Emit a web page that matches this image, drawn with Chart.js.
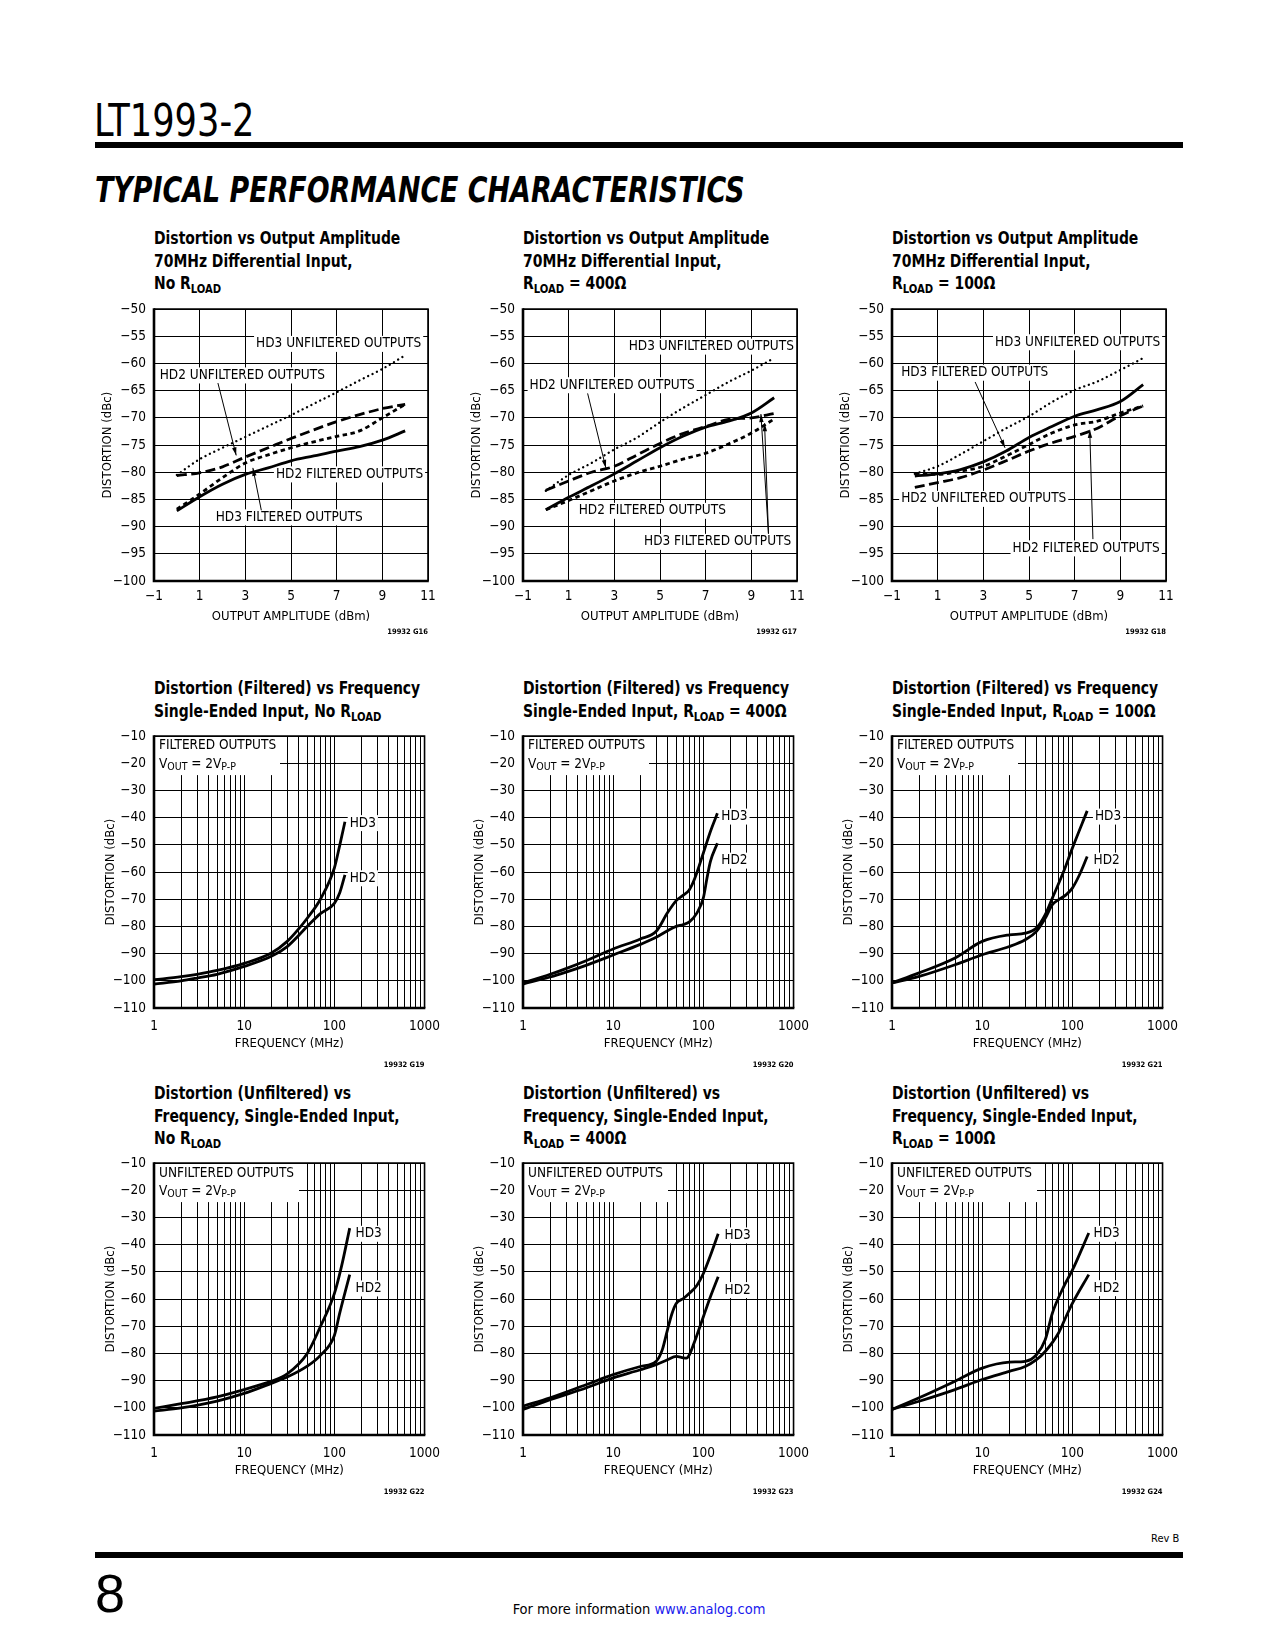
<!DOCTYPE html>
<html>
<head>
<meta charset="utf-8">
<script src="https://cdn.jsdelivr.net/npm/chart.js@4.4.1/dist/chart.umd.min.js"></script>
<style>
  body { margin: 0; background: #fff; }
  #page { position: relative; width: 1275px; height: 1650px; overflow: hidden; background: #fff;
    font-family: "Liberation Sans Narrow", "DejaVu Sans Condensed", sans-serif; color: #000; }
  .abs { position: absolute; white-space: nowrap; }
  .rule { position: absolute; left: 95px; width: 1088px; background: #000; }
  .title { font-weight: bold; font-size: 18px; line-height: 22.5px; transform: scaleX(0.86); transform-origin: 0 0; }
  .title sub { font-size: 13px; vertical-align: -4px; line-height: 0; }
  canvas { position: absolute; }
</style>
</head>
<body>
<div id="page">
  <div class="abs" style="left:94px;top:99px;font-size:44px;line-height:44px;transform:scaleX(0.89);transform-origin:0 0;">LT1993-2</div>
  <div class="rule" style="top:142px;height:6px;"></div>
  <div class="abs" id="heading" style="left:95px;top:171px;font-family:'DejaVu Sans',sans-serif;font-weight:bold;font-style:italic;font-size:36px;line-height:37px;transform-origin:0 0;">TYPICAL PERFORMANCE CHARACTERISTICS</div>

  <div class="abs title" style="left:154px;top:227px;">Distortion vs Output Amplitude<br>70MHz Differential Input,<br>No R<sub>LOAD</sub></div>
  <div class="abs title" style="left:523px;top:227px;">Distortion vs Output Amplitude<br>70MHz Differential Input,<br>R<sub>LOAD</sub> = 400Ω</div>
  <div class="abs title" style="left:892px;top:227px;">Distortion vs Output Amplitude<br>70MHz Differential Input,<br>R<sub>LOAD</sub> = 100Ω</div>

  <div class="abs title" style="left:154px;top:677px;">Distortion (Filtered) vs Frequency<br>Single-Ended Input, No R<sub>LOAD</sub></div>
  <div class="abs title" style="left:523px;top:677px;">Distortion (Filtered) vs Frequency<br>Single-Ended Input, R<sub>LOAD</sub> = 400Ω</div>
  <div class="abs title" style="left:892px;top:677px;">Distortion (Filtered) vs Frequency<br>Single-Ended Input, R<sub>LOAD</sub> = 100Ω</div>

  <div class="abs title" style="left:154px;top:1082px;">Distortion (Unfiltered) vs<br>Frequency, Single-Ended Input,<br>No R<sub>LOAD</sub></div>
  <div class="abs title" style="left:523px;top:1082px;">Distortion (Unfiltered) vs<br>Frequency, Single-Ended Input,<br>R<sub>LOAD</sub> = 400Ω</div>
  <div class="abs title" style="left:892px;top:1082px;">Distortion (Unfiltered) vs<br>Frequency, Single-Ended Input,<br>R<sub>LOAD</sub> = 100Ω</div>

  <canvas id="g16"></canvas><canvas id="g17"></canvas><canvas id="g18"></canvas>
  <canvas id="g19"></canvas><canvas id="g20"></canvas><canvas id="g21"></canvas>
  <canvas id="g22"></canvas><canvas id="g23"></canvas><canvas id="g24"></canvas>

  <div class="abs" style="left:1151px;top:1532px;font-size:11px;line-height:14px;">Rev B</div>
  <div class="rule" style="top:1552px;height:6px;"></div>
  <div class="abs" style="left:95px;top:1566px;font-family:'Liberation Sans',sans-serif;font-size:54px;line-height:54px;">8</div>
  <div class="abs" style="left:0;width:1278px;text-align:center;top:1600px;font-size:14.5px;line-height:18px;">For more information <span style="color:#1a1aee;">www.analog.com</span></div>
</div>

<script>
// ---- data ----
// output amplitude (dBm), x of the amplitude sweeps
const ampX = [0, 1, 2, 3, 4, 5, 6, 7, 8, 9, 10];
const ampTicks = [-1, 1, 3, 5, 7, 9, 11];
const ampDbTicks = [-100, -95, -90, -85, -80, -75, -70, -65, -60, -55, -50];

// G16, no Rload
const g16Hd3Unf = [-80.5, -77.6, -75.5, -73.5, -71.5, -69.5, -67.4, -65.3, -63.1, -61, -58.5];
const g16Hd2Unf = [-80.6, -80.1, -79, -77.2, -75.5, -73.8, -72.2, -70.7, -69.4, -68.3, -67.5];
const g16Hd2Fil = [-87.1, -84.5, -82.2, -80.4, -79.2, -77.9, -77, -76.1, -75.3, -74.1, -72.4];
const g16Hd3Fil = [-86.8, -84, -81, -78.3, -76.8, -75.5, -74.4, -73.4, -72.4, -70, -67.5];

// G17, Rload = 400
const g17Hd3Unf = [-83.4, -80.5, -78.3, -75.8, -73.6, -70.8, -68.2, -65.8, -63.4, -61.3, -59];
const g17Hd2Unf = [-83.3, -81.6, -80, -78.9, -76.8, -74.7, -72.9, -71.6, -70.3, -70, -69.2];
const g17Hd2Fil = [-86.9, -84.6, -82.5, -80.3, -77.9, -75.5, -73.4, -71.7, -70.6, -69.1, -66.3];
const g17Hd3Fil = [-86.9, -85.2, -83.4, -81.6, -80.1, -78.9, -77.6, -76.5, -74.8, -72.8, -70.2];

// G18, Rload = 100
const g18Hd3Unf = [-80.3, -78.9, -76.7, -74.3, -71.9, -69.7, -67.1, -64.9, -63.3, -61.2, -59];
const g18Hd3Fil = [-80.7, -80.3, -79.5, -78.1, -76.1, -73.6, -71.6, -69.7, -68.5, -67, -63.9];
const g18Hd2Fil = [-80.4, -80.4, -79.8, -78.9, -77, -74.9, -72.8, -71.3, -70.6, -69.1, -67.8];
const g18Hd2Unf = [-82.8, -81.9, -81, -79.6, -77.9, -76.1, -74.6, -73.4, -71.9, -69.6, -67.8];

// frequency axis (MHz)
const freqGrid = [1, 2, 3, 4, 5, 6, 7, 8, 9, 10, 20, 30, 40, 50, 60, 70, 80, 90,
  100, 200, 300, 400, 500, 600, 700, 800, 900, 1000];
const freqLabels = [1, 10, 100, 1000];
const freqDbTicks = [-110, -100, -90, -80, -70, -60, -50, -40, -30, -20, -10];

// G19, filtered, no Rload
const g19Hd3F = [1, 2, 3, 5, 10, 20, 30, 40, 50, 70, 100, 115, 131];
const g19Hd3 = [-99.6, -98.5, -97.6, -96.2, -93.6, -89.8, -85.5, -81, -77, -70, -58.5, -50, -41.5];
const g19Hd2F = [1, 2, 3, 5, 10, 20, 30, 50, 70, 100, 115, 131];
const g19Hd2 = [-101.2, -100, -99, -97.6, -94.7, -91, -87.4, -80, -75.3, -71.5, -67.5, -61];

// G20, filtered, 400 ohm
const g20Hd3F = [1, 2, 3, 5, 10, 20, 30, 40, 50, 60, 70, 80, 100, 120, 143];
const g20Hd3 = [-100.8, -97.6, -95.5, -92.6, -88.3, -84.6, -81.8, -75, -70.5, -68.5, -66.5, -62.5, -53, -45, -38.4];
const g20Hd2F = [1, 2, 3, 5, 10, 20, 30, 40, 50, 60, 70, 85, 100, 110, 120, 143];
const g20Hd2 = [-101.2, -98.6, -96.8, -94.3, -90.5, -86.6, -84, -81.6, -80, -79.3, -78.3, -75, -69.5, -62, -56, -49.4];

// G21, filtered, 100 ohm
const g21Hd3F = [1, 2, 5, 10, 20, 30, 40, 50, 60, 80, 100, 146];
const g21Hd3 = [-100.8, -97.1, -91.6, -85.5, -83.1, -82.5, -80.6, -75.7, -69.6, -59.8, -51.2, -37.5];
const g21Hd2F = [1, 2, 5, 10, 20, 30, 40, 50, 60, 70, 85, 100, 120, 146];
const g21Hd2 = [-100.8, -98.4, -94.1, -90.4, -87.4, -84.9, -81.8, -77, -72, -70.2, -68.4, -65.9, -61, -54.3];

// G22, unfiltered, no Rload
const g22Hd3F = [1, 2, 5, 10, 20, 30, 50, 70, 100, 120, 148];
const g22Hd3 = [-100.2, -98.5, -96, -93.3, -90.2, -87.5, -80, -70.1, -58, -48, -33.9];
const g22Hd2F = [1, 2, 5, 10, 20, 30, 50, 70, 100, 115, 148];
const g22Hd2 = [-101.2, -100, -97.5, -94.7, -91, -88.7, -84.7, -80.7, -73.4, -65, -51];

// G23, unfiltered, 400 ohm
const g23Hd3F = [1, 2, 5, 10, 20, 30, 35, 40, 45, 50, 60, 70, 85, 100, 120, 146];
const g23Hd3 = [-99.4, -96.3, -91.5, -87.8, -84.8, -82.9, -78.7, -71.3, -65.2, -61.6, -59.8, -57.9, -54.9, -50.6, -43.9, -36];
const g23Hd2F = [1, 2, 5, 10, 20, 30, 40, 50, 60, 65, 70, 80, 100, 120, 146];
const g23Hd2 = [-100.6, -97, -92.7, -89, -86, -84.1, -82.3, -81.1, -81.6, -81.7, -80.5, -75.6, -66.5, -59.1, -51.8];

// G24, unfiltered, 100 ohm
const g24Hd3F = [1, 2, 5, 10, 20, 30, 40, 50, 60, 80, 100, 152];
const g24Hd3 = [-100.6, -96.3, -90.2, -85.4, -83.2, -82.9, -80.5, -75, -65.2, -55.5, -49.4, -35.7];
const g24Hd2F = [1, 2, 5, 10, 20, 30, 40, 50, 70, 85, 100, 152];
const g24Hd2 = [-100.6, -97.6, -93.3, -89.6, -86.6, -84.8, -82.3, -79.3, -72.6, -66.5, -61.6, -51];

// ---- layout ----
const NARROW = '"Liberation Sans Narrow", "DejaVu Sans Condensed", sans-serif';
const PLOT_W = 274, PLOT_H = 274;
const colLeft = [154, 523, 892];
const rowTop = [307, 734, 1161];
const Y_AXIS_W = 70, PAD_TOP = 14, PAD_RIGHT = 22, X_AXIS_H = 70;

const STYLES = {
  solid: { borderWidth: 2.8, borderDash: [] },
  dot: { borderWidth: 2.3, borderDash: [0.1, 4.8], borderCapStyle: "round" },
  long: { borderWidth: 2.8, borderDash: [10, 4.5] },
  short: { borderWidth: 2.8, borderDash: [4.5, 3.5] },
};

Chart.defaults.font.family = NARROW;
Chart.defaults.color = "#000";

const charts = [
  {
    id: "g16", col: 0, row: 0, kind: "amp", code: "19932 G16",
    series: [[ampX, g16Hd3Unf, "dot"], [ampX, g16Hd2Unf, "long"], [ampX, g16Hd3Fil, "short"], [ampX, g16Hd2Fil, "solid"]],
    labels: [["HD3 UNFILTERED OUTPUTS", 3.47, -56.4], ["HD2 UNFILTERED OUTPUTS", -0.75, -62.2],
      ["HD2 FILTERED OUTPUTS", 4.34, -80.4], ["HD3 FILTERED OUTPUTS", 1.7, -88.3]],
    leaders: [[1.8, -63.6, 2.6, -76.9], [3.7, -87, 3.33, -79.2]],
  },
  {
    id: "g17", col: 1, row: 0, kind: "amp", code: "19932 G17",
    series: [[ampX, g17Hd3Unf, "dot"], [ampX, g17Hd2Unf, "long"], [ampX, g17Hd3Fil, "short"], [ampX, g17Hd2Fil, "solid"]],
    labels: [["HD3 UNFILTERED OUTPUTS", 3.63, -56.9], ["HD2 UNFILTERED OUTPUTS", -0.71, -64],
      ["HD2 FILTERED OUTPUTS", 1.44, -87.1], ["HD3 FILTERED OUTPUTS", 4.3, -92.8]],
    leaders: [[1.83, -65.5, 2.63, -79.2], [9.75, -91.3, 9.42, -69.3], [9.75, -91.3, 9.58, -71]],
  },
  {
    id: "g18", col: 2, row: 0, kind: "amp", code: "19932 G18",
    series: [[ampX, g18Hd3Unf, "dot"], [ampX, g18Hd2Unf, "long"], [ampX, g18Hd2Fil, "short"], [ampX, g18Hd3Fil, "solid"]],
    labels: [["HD3 UNFILTERED OUTPUTS", 3.51, -56.1], ["HD3 FILTERED OUTPUTS", -0.6, -61.7],
      ["HD2 UNFILTERED OUTPUTS", -0.6, -84.9], ["HD2 FILTERED OUTPUTS", 4.28, -94]],
    leaders: [[2.64, -63.4, 3.95, -75.5], [7.8, -92.3, 7.66, -72.2]],
  },
  {
    id: "g19", col: 0, row: 1, kind: "freq", code: "19932 G19", note: "FILTERED OUTPUTS",
    series: [[g19Hd3F, g19Hd3, "solid"], [g19Hd2F, g19Hd2, "solid"]],
    labels: [["HD3", 148, -42], ["HD2", 148, -62.3]], leaders: [],
  },
  {
    id: "g20", col: 1, row: 1, kind: "freq", code: "19932 G20", note: "FILTERED OUTPUTS",
    series: [[g20Hd3F, g20Hd3, "solid"], [g20Hd2F, g20Hd2, "solid"]],
    labels: [["HD3", 158, -39.6], ["HD2", 158, -55.8]], leaders: [],
  },
  {
    id: "g21", col: 2, row: 1, kind: "freq", code: "19932 G21", note: "FILTERED OUTPUTS",
    series: [[g21Hd3F, g21Hd3, "solid"], [g21Hd2F, g21Hd2, "solid"]],
    labels: [["HD3", 178, -39.6], ["HD2", 172, -55.8]], leaders: [],
  },
  {
    id: "g22", col: 0, row: 2, kind: "freq", code: "19932 G22", note: "UNFILTERED OUTPUTS",
    series: [[g22Hd3F, g22Hd3, "solid"], [g22Hd2F, g22Hd2, "solid"]],
    labels: [["HD3", 172, -36], ["HD2", 172, -56.1]], leaders: [],
  },
  {
    id: "g23", col: 1, row: 2, kind: "freq", code: "19932 G23", note: "UNFILTERED OUTPUTS",
    series: [[g23Hd3F, g23Hd3, "solid"], [g23Hd2F, g23Hd2, "solid"]],
    labels: [["HD3", 172, -36.6], ["HD2", 172, -56.7]], leaders: [],
  },
  {
    id: "g24", col: 2, row: 2, kind: "freq", code: "19932 G24", note: "UNFILTERED OUTPUTS",
    series: [[g24Hd3F, g24Hd3, "solid"], [g24Hd2F, g24Hd2, "solid"]],
    labels: [["HD3", 172, -36], ["HD2", 172, -56]], leaders: [],
  },
];

const minus = (v) => String(v).replace("-", "\u2212");

function drawRich(ctx, x, y, parts) {
  parts.forEach((p) => {
    ctx.font = (p.sub ? "10.5px " : "13.5px ") + NARROW;
    ctx.fillText(p.t, x, y + (p.sub ? 3 : 0));
    x += ctx.measureText(p.t).width;
  });
}

function arrow(ctx, x0, y0, x1, y1) {
  ctx.beginPath();
  ctx.moveTo(x0, y0);
  ctx.lineTo(x1, y1);
  ctx.lineWidth = 1;
  ctx.stroke();
  const a = Math.atan2(y1 - y0, x1 - x0);
  ctx.beginPath();
  ctx.moveTo(x1, y1);
  ctx.lineTo(x1 - 8 * Math.cos(a) + 2.2 * Math.sin(a), y1 - 8 * Math.sin(a) - 2.2 * Math.cos(a));
  ctx.lineTo(x1 - 8 * Math.cos(a) - 2.2 * Math.sin(a), y1 - 8 * Math.sin(a) + 2.2 * Math.cos(a));
  ctx.closePath();
  ctx.fill();
}

function makeChart(c) {
  const canvas = document.getElementById(c.id);
  const w = Y_AXIS_W + PLOT_W + PAD_RIGHT;
  const h = PAD_TOP + PLOT_H + X_AXIS_H;
  canvas.width = w;
  canvas.height = h;
  canvas.style.width = w + "px";
  canvas.style.height = h + "px";
  canvas.style.left = colLeft[c.col] - Y_AXIS_W + "px";
  canvas.style.top = rowTop[c.row] - PAD_TOP + "px";

  const amp = c.kind === "amp";
  const xTickVals = amp ? ampTicks : freqGrid;
  const yTickVals = amp ? ampDbTicks : freqDbTicks;

  const decor = {
    id: "decor",
    beforeDatasetsDraw(chart) {
      const { ctx, chartArea: a, scales } = chart;
      ctx.save();
      ctx.fillStyle = "#fff";
      if (c.note) {
        const bw = c.note.length > 16 ? 145 : 126;
        ctx.fillRect(a.left, a.top, bw, 39);
        ctx.fillStyle = "#000";
        ctx.textBaseline = "middle";
        ctx.font = "13.5px " + NARROW;
        ctx.fillText(c.note, a.left + 5, a.top + (c.row === 2 ? 10 : 9));
        drawRich(ctx, a.left + 5, a.top + 28, [{ t: "V" }, { t: "OUT", sub: true }, { t: " = 2V" }, { t: "P-P", sub: true }]);
      }
      ctx.font = "13.5px " + NARROW;
      ctx.textBaseline = "middle";
      c.labels.forEach(([t, lx, ly]) => {
        const px = scales.x.getPixelForValue(lx);
        const py = scales.y.getPixelForValue(ly);
        const tw = ctx.measureText(t).width;
        ctx.fillStyle = "#fff";
        ctx.fillRect(px - 2, py - 8, tw + 4, 16);
        ctx.fillStyle = "#000";
        ctx.fillText(t, px, py);
      });
      ctx.restore();
    },
    afterDatasetsDraw(chart) {
      const { ctx, chartArea: a, scales } = chart;
      ctx.save();
      ctx.strokeStyle = "#000";
      ctx.fillStyle = "#000";
      c.leaders.forEach(([x0, y0, x1, y1]) => {
        arrow(ctx, scales.x.getPixelForValue(x0), scales.y.getPixelForValue(y0),
          scales.x.getPixelForValue(x1), scales.y.getPixelForValue(y1));
      });
      // frame
      ctx.lineWidth = 1.6;
      ctx.beginPath();
      ctx.moveTo(a.left, a.top);
      ctx.lineTo(a.right, a.top);
      ctx.lineTo(a.right, a.bottom);
      ctx.stroke();
      ctx.lineWidth = 2.6;
      ctx.beginPath();
      ctx.moveTo(a.left, a.top - 0.8);
      ctx.lineTo(a.left, a.bottom);
      ctx.lineTo(a.right + 0.8, a.bottom);
      ctx.stroke();
      // axis titles
      ctx.textAlign = "center";
      ctx.textBaseline = "middle";
      ctx.font = "13px " + NARROW;
      ctx.fillText(amp ? "OUTPUT AMPLITUDE (dBm)" : "FREQUENCY (MHz)", (a.left + a.right) / 2, a.bottom + 36);
      ctx.save();
      ctx.translate(a.left - (amp ? 46 : 43), (a.top + a.bottom) / 2);
      ctx.rotate(-Math.PI / 2);
      ctx.fillText("DISTORTION (dBc)", 0, 0);
      ctx.restore();
      ctx.textAlign = "right";
      ctx.font = "bold 7.5px " + NARROW;
      ctx.fillText(c.code, a.right, a.bottom + (amp ? 51 : 57));
      ctx.restore();
    },
  };

  return new Chart(canvas, {
    type: "line",
    data: {
      datasets: c.series.map(([xs, ys, st]) => ({
        data: xs.map((x, i) => ({ x, y: ys[i] })),
        borderColor: "#000",
        pointRadius: 0,
        fill: false,
        cubicInterpolationMode: "monotone",
        ...STYLES[st],
      })),
    },
    options: {
      responsive: false,
      animation: false,
      events: [],
      layout: { padding: { left: 0, top: PAD_TOP, right: PAD_RIGHT, bottom: 0 } },
      plugins: { legend: { display: false }, tooltip: { enabled: false } },
      scales: {
        x: {
          type: amp ? "linear" : "logarithmic",
          min: amp ? -1 : 1,
          max: amp ? 11 : 1000,
          afterBuildTicks: (s) => { s.ticks = xTickVals.map((v) => ({ value: v })); },
          afterFit: (s) => { s.height = X_AXIS_H; },
          grid: { color: "#000", lineWidth: 1, drawTicks: false },
          border: { display: false },
          ticks: {
            autoSkip: false, maxRotation: 0, padding: amp ? 7 : 10,
            font: { size: 13.5 },
            callback: (v) => (amp ? minus(v) : freqLabels.includes(v) ? String(v) : ""),
          },
        },
        y: {
          type: "linear",
          min: amp ? -100 : -110,
          max: amp ? -50 : -10,
          afterBuildTicks: (s) => { s.ticks = yTickVals.map((v) => ({ value: v })); },
          afterFit: (s) => { s.width = Y_AXIS_W; },
          grid: { color: "#000", lineWidth: 1, drawTicks: false },
          border: { display: false },
          ticks: { padding: 8, font: { size: 13.5 }, callback: (v) => minus(v) },
        },
      },
    },
    plugins: [decor],
  });
}

charts.forEach(makeChart);

// squeeze the section heading to its printed width
const heading = document.getElementById("heading");
heading.style.transform = "scaleX(" + (650 / heading.offsetWidth).toFixed(3) + ")";
</script>
</body>
</html>
